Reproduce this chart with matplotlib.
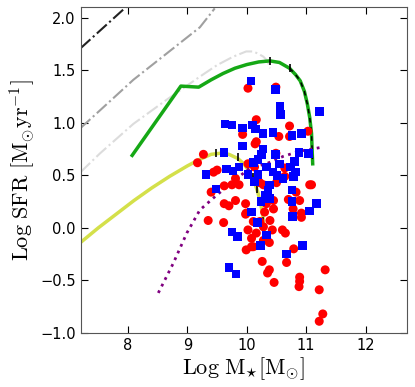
import numpy as np
import matplotlib
matplotlib.use('Agg')
import matplotlib.pyplot as plt

plt.rcParams['mathtext.fontset'] = 'cm'

# --- data ---
red_x = [10.02, 10.49, 10.16, 9.93, 10.16, 10.14, 10.54, 10.72, 10.72, 11.03,
         9.17, 9.27, 9.44, 9.50, 9.40, 9.35, 9.62, 9.75, 9.87, 9.81,
         9.62, 9.70, 9.81, 9.98, 9.99, 9.61, 10.02, 10.08, 9.99, 10.08,
         10.26, 10.35, 10.38, 10.46, 10.38, 10.43, 10.60, 10.65, 10.67, 10.79,
         10.89, 10.89, 10.88, 11.22, 11.32, 11.28, 11.22, 10.50, 10.64, 10.45,
         10.45, 10.70, 10.83, 10.89, 10.78, 10.92, 10.92, 11.06, 11.09, 10.22,
         10.28, 10.33, 10.30, 10.22, 10.28, 10.11, 10.02, 10.13, 10.64, 10.49,
         9.98, 10.39, 10.16, 10.28, 10.11]
red_y = [1.33, 1.34, 1.03, 0.89, 0.82, 0.80, 0.87, 0.97, 0.87, 0.92,
         0.62, 0.70, 0.53, 0.55, 0.34, 0.07, 0.40, 0.41, 0.41, 0.47,
         0.23, 0.21, 0.26, 0.23, 0.14, 0.05, -0.02, -0.10, -0.21, -0.18,
         -0.32, -0.43, -0.40, -0.52, -0.14, -0.02, -0.02, -0.05, -0.33, -0.20,
         -0.47, -0.51, -0.56, -0.59, -0.40, -0.82, -0.89, 0.43, 0.49, 0.26,
         0.18, 0.27, 0.34, 0.26, 0.18, 0.14, 0.10, 0.41, 0.41, 0.43,
         0.41, 0.23, 0.15, 0.06, 0.01, 0.06, 0.61, 0.58, 0.57, 0.71,
         0.13, 0.07, -0.05, -0.12, -0.18]

blue_x = [10.07, 10.48, 10.56, 10.57, 11.22, 9.63, 9.75, 9.93, 10.10, 10.15,
          10.27, 10.44, 10.76, 10.92, 9.93, 10.27, 10.25, 10.19, 10.11, 10.48,
          9.62, 10.88, 11.04, 9.31, 9.48, 9.66, 9.77, 9.87, 10.02, 10.19,
          10.33, 10.55, 10.80, 10.74, 10.82, 10.79, 10.44, 10.51, 10.61, 10.13,
          10.38, 10.36, 10.31, 10.24, 10.38, 10.76, 10.76, 11.17, 11.06, 10.77,
          10.08, 10.18, 10.33, 9.75, 9.84, 10.23, 10.67, 10.94, 9.70, 9.82]
blue_y = [1.40, 1.32, 1.16, 1.08, 1.11, 0.99, 0.98, 0.95, 0.98, 0.94,
          0.90, 0.91, 0.88, 0.90, 0.78, 0.75, 0.70, 0.65, 0.62, 0.70,
          0.72, 0.72, 0.71, 0.51, 0.37, 0.56, 0.54, 0.58, 0.51, 0.51,
          0.58, 0.61, 0.63, 0.58, 0.53, 0.49, 0.53, 0.50, 0.47, 0.44,
          0.41, 0.36, 0.31, 0.25, 0.28, 0.36, 0.25, 0.23, 0.16, 0.11,
          0.15, 0.05, -0.07, -0.04, -0.08, -0.17, -0.25, -0.17, -0.38, -0.44]

# model tracks
green_x = [8.07, 8.89, 9.19, 9.4, 9.6, 9.8, 10.0, 10.2, 10.39, 10.55, 10.72,
           10.82, 10.9, 10.97, 11.02, 11.06, 11.09, 11.10, 11.11]
green_y = [0.69, 1.35, 1.34, 1.41, 1.47, 1.52, 1.555, 1.58, 1.59, 1.575, 1.52,
           1.46, 1.40, 1.30, 1.18, 1.05, 0.90, 0.75, 0.61]

yellow_x = [7.2, 7.5, 7.8, 8.1, 8.4, 8.7, 9.0, 9.2, 9.4, 9.55, 9.7, 9.85,
            9.95, 10.05, 10.12, 10.18, 10.23, 10.27, 10.29, 10.30]
yellow_y = [-0.14, 0.0, 0.13, 0.26, 0.38, 0.49, 0.59, 0.65, 0.70, 0.71, 0.70,
            0.66, 0.61, 0.53, 0.45, 0.35, 0.24, 0.12, 0.0, -0.12]

dark_x = [7.2, 8.0]
dark_y = [1.71, 2.12]

mid_x = [7.2, 7.53, 8.09, 8.65, 9.21, 9.46]
mid_y = [0.95, 1.12, 1.41, 1.66, 1.91, 2.09]

light_x = [7.2, 7.53, 8.09, 8.65, 9.21, 9.5, 9.77, 9.99, 10.1, 10.19, 10.28,
           10.33, 10.37, 10.39]
light_y = [0.53, 0.71, 0.99, 1.22, 1.44, 1.55, 1.63, 1.68, 1.68, 1.66, 1.63,
           1.60, 1.56, 1.52]

purple_x = [8.51, 8.76, 8.99, 9.21, 9.49, 9.77, 10.05, 10.33, 10.61, 10.89, 11.29]
purple_y = [-0.62, -0.34, -0.05, 0.17, 0.31, 0.44, 0.57, 0.61, 0.68, 0.73, 0.77]

# black marks on the tracks
gtick_x = [10.39, 10.72]
gtick_y = [1.59, 1.52]
ytick_x = [9.49, 9.85, 10.10, 10.17]
ytick_y = [0.71, 0.67, 0.48, 0.37]

# --- plot ---
fig = plt.figure(figsize=(4.15, 3.87), dpi=100)
ax = fig.add_axes([0.194, 0.140, 0.787, 0.841])

ax.plot(dark_x, dark_y, color='#222222', ls='-.', lw=1.5)
ax.plot(mid_x, mid_y, color='#a0a0a0', ls='-.', lw=1.5)
ax.plot(light_x, light_y, color='#dcdcdc', ls='-.', lw=1.5)
ax.plot(yellow_x, yellow_y, color='#d4e04a', lw=2.5)
ax.plot(green_x, green_y, color='#15a815', lw=2.5)
ax.plot(green_x[10:], green_y[10:], color='black', ls=(0, (3, 3)), lw=1.1)
ax.plot(gtick_x, gtick_y, ls='none', marker='|', ms=6, color='black', mew=1.2)
ax.plot(ytick_x, ytick_y, ls='none', marker='|', ms=6, color='black', mew=1.2)
ax.plot([10.28, 10.28], [-0.11, 0.09], color='black', lw=1.2)
ax.plot(purple_x, purple_y, color='purple', ls=':', lw=2)

ax.scatter(red_x, red_y, s=42, c='red', marker='o', edgecolors='none', zorder=3)
ax.scatter(blue_x, blue_y, s=38, c='blue', marker='s', edgecolors='none', zorder=4)

ax.set_xlim(7.2, 12.7)
ax.set_ylim(-1.0, 2.1)
ax.set_xticks([8, 9, 10, 11, 12])
ax.set_yticks([-1.0, -0.5, 0.0, 0.5, 1.0, 1.5, 2.0])
ax.tick_params(direction='in', top=True, right=True, length=5, labelsize=10.5)
for sp in ax.spines.values():
    sp.set_color('#555555')

ax.set_xlabel(r'$\mathrm{Log\ M_{\star}[M_{\odot}]}$', fontsize=16, labelpad=2)
ax.set_ylabel(r'$\mathrm{Log\ SFR\ [M_{\odot}yr^{-1}]}$', fontsize=16, labelpad=2)

fig.savefig('out.png', dpi=100)
